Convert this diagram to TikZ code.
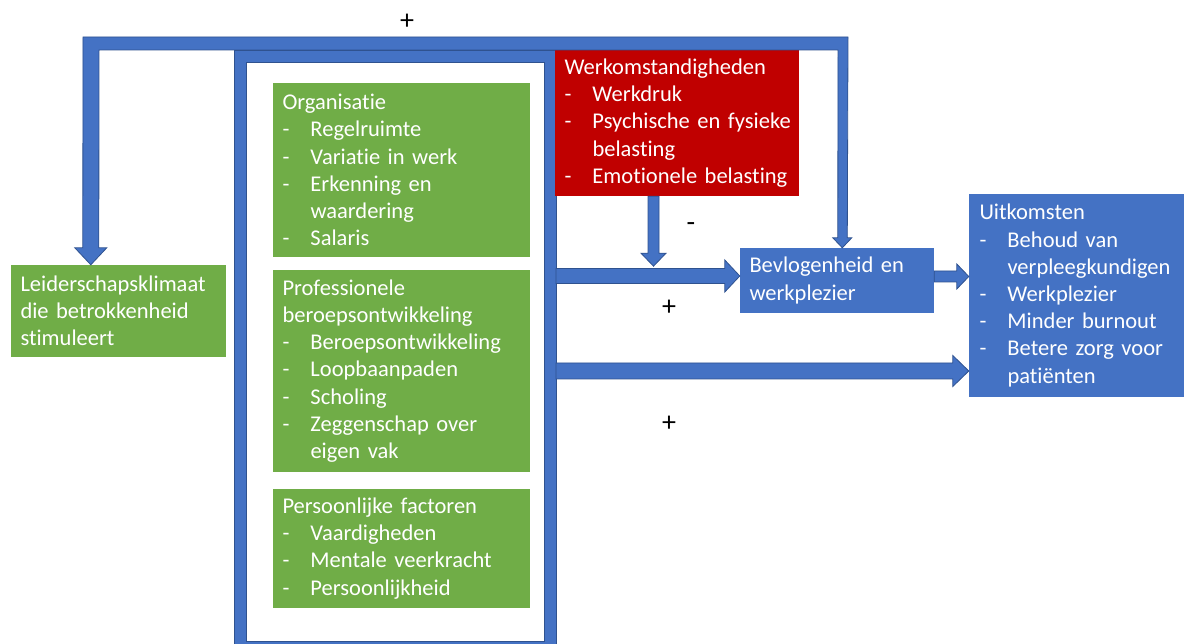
\documentclass[tikz,border=0pt]{standalone}
\usepackage{fontspec}
\setmainfont{Carlito}[Ligatures=NoCommon, RawFeature={-liga;-clig;-dlig;-calt}, WordSpace=0.75]
\usetikzlibrary{calc}
\definecolor{pblue}{HTML}{4472C4}
\definecolor{pdark}{HTML}{2F528F}
\definecolor{pgreen}{HTML}{70AD47}
\definecolor{pred}{HTML}{C00000}
\newlength{\ind}\setlength{\ind}{28pt}
\newcommand{\itm}[1]{\mbox{\makebox[\ind][l]{-}#1}}
\newcommand{\cnt}[1]{\mbox{\hspace*{\ind}#1}}
\newcommand{\lne}[1]{\mbox{#1}}
\newcommand{\fs}{\fontsize{22.5pt}{27.2pt}\selectfont}
% right-pointing block arrow: start, tip, half shaft, half head, head length
\newcommand{\rarrow}[5]{\filldraw[barrow] ($(#1)+(0,#3)$) -- ($(#2)+(-#5,#3)$) -- ($(#2)+(-#5,#4)$) -- (#2) -- ($(#2)+(-#5,-#4)$) -- ($(#2)+(-#5,-#3)$) -- ($(#1)+(0,-#3)$) -- cycle;}
% down-pointing block arrow
\newcommand{\darrow}[5]{\filldraw[barrow] ($(#1)+(#3,0)$) -- ($(#2)+(#3,-#5)$) -- ($(#2)+(#4,-#5)$) -- (#2) -- ($(#2)+(-#4,-#5)$) -- ($(#2)+(-#3,-#5)$) -- ($(#1)+(-#3,0)$) -- cycle;}
\begin{document}
\begin{tikzpicture}[x=1pt,y=-1pt,
  box/.style={rectangle, inner xsep=9.5pt, inner ysep=0pt, align=left, text=white, font=\fs},
  barrow/.style={fill=pblue, draw=pdark, line width=0.8pt, line join=miter},
  sign/.style={font=\fontsize{28pt}{30pt}\selectfont, text=black, inner sep=0pt}]
\useasboundingbox (0,0) rectangle (1187,644);

% frame
\node[draw=pblue, line width=12pt, minimum width=310pt, minimum height=591pt, inner sep=0pt] (frame) at (395,351.5) {};
\draw[pdark, line width=0.6pt] (234,50) rectangle (556,653) (246,62) rectangle (544,641);

% boxes
\node[box, fill=pgreen, minimum width=215pt, minimum height=92pt, text width=196pt] (lead) at (118.5,311)
  {\lne{Leiderschapsklimaat}\\\lne{die betrokkenheid}\\\lne{stimuleert}};
\node[box, fill=pgreen, minimum width=257pt, minimum height=174pt, text width=238pt] (org) at (401.5,170)
  {\lne{Organisatie}\\\itm{Regelruimte}\\\itm{Variatie in werk}\\\itm{Erkenning en}\\\cnt{waardering}\\\itm{Salaris}};
\node[box, fill=pgreen, minimum width=257pt, minimum height=202pt, text width=238pt] (prof) at (401.5,371)
  {\lne{Professionele}\\\lne{beroepsontwikkeling}\\\itm{Beroepsontwikkeling}\\\itm{Loopbaanpaden}\\\itm{Scholing}\\\itm{Zeggenschap over}\\\cnt{eigen vak}};
\node[box, fill=pgreen, minimum width=257pt, minimum height=119pt, text width=238pt] (pers) at (401.5,548.5)
  {\lne{Persoonlijke factoren}\\\itm{Vaardigheden}\\\itm{Mentale veerkracht}\\\itm{Persoonlijkheid}};
\node[box, fill=pred, minimum width=244pt, minimum height=146pt, text width=225pt] (work) at (677,123)
  {\lne{Werkomstandigheden}\\\itm{Werkdruk}\\\itm{Psychische en fysieke}\\\cnt{belasting}\\\itm{Emotionele belasting}};
\node[box, fill=pblue, minimum width=194pt, minimum height=65pt, text width=175pt] (bev) at (837,280.5)
  {\lne{Bevlogenheid en}\\\lne{werkplezier}};
\node[box, fill=pblue, minimum width=215pt, minimum height=203pt, text width=194pt, inner xsep=10.5pt] (uit) at (1076.5,295.5)
  {\lne{Uitkomsten}\\\itm{Behoud van}\\\cnt{verpleegkundigen}\\\itm{Werkplezier}\\\itm{Minder burnout}\\\itm{Betere zorg voor}\\\cnt{patiënten}};

% bent feedback arrow
\coordinate (tipL) at ($(lead.north west)+(80,0)$);
\coordinate (tipR) at ($(bev.north west)+(102.5,0)$);
\filldraw[barrow] (tipL) -- ++(16,-17) -- ++(-8,0) -- (99,50) -- (838,50) -- ($(tipR)+(-4.5,-10)$) -- ++(-5,0)
  -- (tipR) -- ($(tipR)+(9.5,-10)$) -- ++(-4.5,0) -- (848,37) -- (83,37) -- ($(tipL)+(-8,-17)$) -- ++(-8,0) -- cycle;

% red down arrow
\coordinate (redtip) at ($(work.south)+(-23.5,70)$);
\darrow{$(work.south)+(-23.5,0)$}{redtip}{5.5}{12.5}{13}

% horizontal arrows
\coordinate (bevin) at ($(bev.west)+(0,-4.5)$);
\rarrow{frame.east |- bevin}{bevin}{7.5}{16}{15}
\coordinate (uitin1) at ($(uit.west)+(0,-19)$);
\rarrow{bev.east |- uitin1}{uitin1}{5.5}{12.5}{12}
\coordinate (uitin2) at ($(uit.west)+(0,75.5)$);
\rarrow{frame.east |- uitin2}{uitin2}{8}{15.5}{16}

% signs
\node[sign] (s1) at (407,22) {+};
\node[sign] (s2) at (691,227) {-};
\node[sign] (s3) at (669,308) {+};
\node[sign] (s4) at (669,424) {+};
\end{tikzpicture}
\end{document}
